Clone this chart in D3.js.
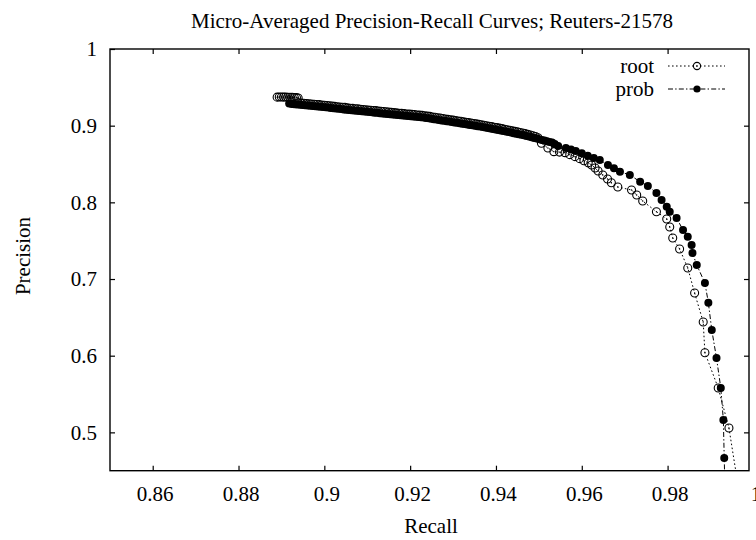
<!DOCTYPE html>
<html>
<head>
<meta charset="utf-8">
<script src="https://cdn.jsdelivr.net/npm/d3@7"></script>
<style>
  html, body { margin: 0; padding: 0; background: #fff; }
  svg { display: block; }
  text { font-family: "Liberation Serif", "Times New Roman", serif; fill: #000; }
</style>
</head>
<body>
<svg id="chart" width="756" height="540"></svg>
<script>
// Micro-averaged precision/recall operating points, Reuters-21578
const seriesNames = ["root", "prob"];

// root: [recall, precision]
const rootPoints = [
  [0.8890, 0.9372], [0.8895, 0.9373], [0.8900, 0.9374], [0.8905, 0.9372], [0.8910, 0.9373],
  [0.8915, 0.9371], [0.8920, 0.9370], [0.8925, 0.9371], [0.8930, 0.9368], [0.8935, 0.9366],
  [0.8939, 0.9360], [0.8940, 0.9297], [0.8946, 0.9294], [0.8952, 0.9292], [0.8958, 0.9288],
  [0.8964, 0.9286], [0.8970, 0.9282], [0.8976, 0.9280], [0.8982, 0.9277], [0.8988, 0.9274],
  [0.8994, 0.9270], [0.9000, 0.9267], [0.9006, 0.9263], [0.9012, 0.9259], [0.9018, 0.9257],
  [0.9024, 0.9252], [0.9030, 0.9247], [0.9036, 0.9244], [0.9042, 0.9240], [0.9048, 0.9238],
  [0.9054, 0.9232], [0.9060, 0.9228], [0.9066, 0.9225], [0.9072, 0.9221], [0.9078, 0.9220],
  [0.9084, 0.9215], [0.9090, 0.9211], [0.9096, 0.9208], [0.9102, 0.9205], [0.9108, 0.9201],
  [0.9114, 0.9198], [0.9120, 0.9196], [0.9126, 0.9191], [0.9132, 0.9188], [0.9138, 0.9184],
  [0.9144, 0.9181], [0.9150, 0.9179], [0.9156, 0.9174], [0.9162, 0.9170], [0.9168, 0.9167],
  [0.9174, 0.9163], [0.9180, 0.9161], [0.9186, 0.9157], [0.9192, 0.9153], [0.9198, 0.9150],
  [0.9204, 0.9147], [0.9210, 0.9145], [0.9216, 0.9140], [0.9222, 0.9137], [0.9228, 0.9134],
  [0.9234, 0.9130], [0.9240, 0.9125], [0.9246, 0.9121], [0.9252, 0.9114], [0.9258, 0.9109],
  [0.9264, 0.9104], [0.9270, 0.9100], [0.9276, 0.9093], [0.9282, 0.9088], [0.9288, 0.9082],
  [0.9294, 0.9078], [0.9300, 0.9072], [0.9306, 0.9066], [0.9312, 0.9061], [0.9318, 0.9057],
  [0.9324, 0.9050], [0.9330, 0.9045], [0.9336, 0.9040], [0.9342, 0.9035], [0.9348, 0.9029],
  [0.9354, 0.9023], [0.9360, 0.9017], [0.9366, 0.9012], [0.9372, 0.9005], [0.9378, 0.8999],
  [0.9384, 0.8993], [0.9390, 0.8987], [0.9396, 0.8980], [0.9402, 0.8974], [0.9408, 0.8968],
  [0.9414, 0.8962], [0.9420, 0.8954], [0.9426, 0.8947], [0.9432, 0.8941], [0.9438, 0.8932],
  [0.9444, 0.8925], [0.9450, 0.8919], [0.9456, 0.8911], [0.9462, 0.8904], [0.9468, 0.8896],
  [0.9474, 0.8887], [0.9480, 0.8879], [0.9486, 0.8869], [0.9492, 0.8858], [0.9498, 0.8842],
  [0.9506, 0.8770], [0.9521, 0.8709], [0.9535, 0.8661], [0.9548, 0.8655], [0.9561, 0.8648],
  [0.9572, 0.8622], [0.9584, 0.8596], [0.9595, 0.8570], [0.9605, 0.8543], [0.9615, 0.8515],
  [0.9623, 0.8487], [0.9631, 0.8448], [0.9638, 0.8409], [0.9649, 0.8357], [0.9660, 0.8305],
  [0.9669, 0.8256], [0.9684, 0.8200], [0.9716, 0.8161], [0.9728, 0.8096], [0.9742, 0.8018],
  [0.9774, 0.7878], [0.9798, 0.7783], [0.9805, 0.7679], [0.9812, 0.7535], [0.9828, 0.7392],
  [0.9847, 0.7144], [0.9863, 0.6818], [0.9883, 0.6439], [0.9887, 0.6039], [0.9918, 0.5579],
  [0.9943, 0.5057], [0.9973, 0.4000]
];

// prob: [recall, precision]
const probPoints = [
  [0.8918, 0.9288], [0.8924, 0.9284], [0.8930, 0.9280], [0.8936, 0.9276], [0.8943, 0.9272],
  [0.8949, 0.9268], [0.8955, 0.9265], [0.8961, 0.9262], [0.8967, 0.9259], [0.8973, 0.9256],
  [0.8979, 0.9253], [0.8985, 0.9250], [0.8991, 0.9246], [0.8997, 0.9243], [0.9003, 0.9240],
  [0.9009, 0.9236], [0.9015, 0.9232], [0.9021, 0.9228], [0.9027, 0.9224], [0.9033, 0.9220],
  [0.9039, 0.9216], [0.9045, 0.9212], [0.9051, 0.9208], [0.9057, 0.9204], [0.9063, 0.9200],
  [0.9069, 0.9197], [0.9075, 0.9194], [0.9081, 0.9190], [0.9087, 0.9187], [0.9093, 0.9184],
  [0.9099, 0.9180], [0.9105, 0.9177], [0.9111, 0.9174], [0.9117, 0.9170], [0.9123, 0.9167],
  [0.9129, 0.9163], [0.9135, 0.9160], [0.9141, 0.9156], [0.9147, 0.9153], [0.9153, 0.9149],
  [0.9159, 0.9146], [0.9165, 0.9142], [0.9171, 0.9139], [0.9177, 0.9136], [0.9183, 0.9132],
  [0.9189, 0.9129], [0.9195, 0.9126], [0.9201, 0.9122], [0.9207, 0.9119], [0.9213, 0.9116],
  [0.9219, 0.9112], [0.9225, 0.9109], [0.9231, 0.9106], [0.9237, 0.9101], [0.9243, 0.9096],
  [0.9249, 0.9090], [0.9255, 0.9085], [0.9261, 0.9080], [0.9267, 0.9074], [0.9273, 0.9069],
  [0.9279, 0.9064], [0.9285, 0.9058], [0.9291, 0.9053], [0.9297, 0.9048], [0.9303, 0.9042],
  [0.9309, 0.9037], [0.9315, 0.9032], [0.9321, 0.9026], [0.9327, 0.9021], [0.9333, 0.9016],
  [0.9339, 0.9010], [0.9345, 0.9005], [0.9351, 0.9000], [0.9357, 0.8994], [0.9363, 0.8988],
  [0.9369, 0.8982], [0.9375, 0.8976], [0.9381, 0.8969], [0.9387, 0.8963], [0.9393, 0.8957],
  [0.9399, 0.8951], [0.9405, 0.8945], [0.9411, 0.8938], [0.9417, 0.8931], [0.9423, 0.8924],
  [0.9429, 0.8917], [0.9435, 0.8910], [0.9441, 0.8902], [0.9447, 0.8895], [0.9453, 0.8888],
  [0.9459, 0.8881], [0.9465, 0.8874], [0.9471, 0.8866], [0.9477, 0.8858], [0.9483, 0.8849],
  [0.9489, 0.8840], [0.9495, 0.8832], [0.9501, 0.8823], [0.9507, 0.8814], [0.9513, 0.8806],
  [0.9519, 0.8797], [0.9525, 0.8788], [0.9531, 0.8780], [0.9537, 0.8760], [0.9545, 0.8735],
  [0.9563, 0.8709], [0.9575, 0.8690], [0.9586, 0.8670], [0.9600, 0.8640], [0.9614, 0.8609],
  [0.9628, 0.8580], [0.9642, 0.8553], [0.9661, 0.8487], [0.9675, 0.8445], [0.9689, 0.8400],
  [0.9712, 0.8357], [0.9736, 0.8269], [0.9754, 0.8214], [0.9774, 0.8122], [0.9786, 0.8031],
  [0.9798, 0.7943], [0.9805, 0.7878], [0.9821, 0.7796], [0.9836, 0.7639], [0.9847, 0.7552],
  [0.9856, 0.7444], [0.9858, 0.7340], [0.9868, 0.7183], [0.9887, 0.6948], [0.9895, 0.6691],
  [0.9903, 0.6335], [0.9914, 0.5970], [0.9924, 0.5579], [0.9930, 0.5161], [0.9932, 0.4666],
  [0.9934, 0.4200]
];

const xTickValues = [0.86, 0.88, 0.90, 0.92, 0.94, 0.96, 0.98, 1.00];
const xTickLabels = ["0.86", "0.88", "0.9", "0.92", "0.94", "0.96", "0.98", "1"];
const yTickValues = [0.5, 0.6, 0.7, 0.8, 0.9, 1.0];
const yTickLabels = ["0.5", "0.6", "0.7", "0.8", "0.9", "1"];

const titleText = "Micro-Averaged Precision-Recall Curves; Reuters-21578";
const xLabel = "Recall";
const yLabel = "Precision";

// ---- layout ----
const frame = { left: 110, right: 749, top: 49, bottom: 470.7 };
const fontSize = 21;

const svg = d3.select("#chart");

const x = d3.scaleLinear().domain([0.85, 1.0]).range([109.8, 753.4]);
const y = d3.scaleLinear().domain([0.45, 1.0]).range([frame.bottom, frame.top]);

const fmtX = d => xTickLabels[xTickValues.indexOf(d)];
const fmtY = d => yTickLabels[yTickValues.indexOf(d)];
const insideX = xTickValues.filter(v => x(v) < frame.right - 1);

// bottom axis: inward ticks, labels below
const gBottom = svg.append("g").attr("transform", `translate(0,${frame.bottom})`)
  .call(d3.axisBottom(x).tickValues(xTickValues).tickFormat(fmtX).tickSize(-5).tickPadding(15));
gBottom.selectAll(".tick line").filter(d => x(d) > frame.right - 1).remove();
gBottom.selectAll(".tick text").attr("x", 2);

// top mirror ticks
svg.append("g").attr("transform", `translate(0,${frame.top})`)
  .call(d3.axisTop(x).tickValues(insideX).tickFormat("").tickSize(-5));

// left axis
svg.append("g").attr("transform", `translate(${frame.left},0)`)
  .call(d3.axisLeft(y).tickValues(yTickValues).tickFormat(fmtY).tickSize(-5).tickPadding(13));

// right mirror ticks
svg.append("g").attr("transform", `translate(${frame.right},0)`)
  .call(d3.axisRight(y).tickValues(yTickValues.filter(v => v < 1)).tickFormat("").tickSize(-5));

svg.selectAll(".domain").remove();
svg.selectAll(".tick line").attr("stroke", "#000").attr("stroke-width", 1.2);
svg.selectAll(".tick text")
  .style("font-family", '"Liberation Serif", "Times New Roman", serif')
  .style("font-size", fontSize + "px").attr("fill", "#000");

// frame
svg.append("rect")
  .attr("x", frame.left).attr("y", frame.top)
  .attr("width", frame.right - frame.left).attr("height", frame.bottom - frame.top)
  .attr("fill", "none").attr("stroke", "#000").attr("stroke-width", 1.4);

// titles
svg.append("text").attr("x", 432).attr("y", 28).attr("text-anchor", "middle")
  .style("font-size", fontSize + "px").text(titleText);
svg.append("text").attr("x", 431).attr("y", 533).attr("text-anchor", "middle")
  .style("font-size", fontSize + "px").text(xLabel);
svg.append("text").attr("transform", "translate(30,256) rotate(-90)").attr("text-anchor", "middle")
  .style("font-size", fontSize + "px").text(yLabel);

// clip to plotting frame
svg.append("defs").append("clipPath").attr("id", "plotClip")
  .append("rect").attr("x", frame.left).attr("y", frame.top)
  .attr("width", frame.right - frame.left).attr("height", frame.bottom - frame.top);

const plot = svg.append("g").attr("clip-path", "url(#plotClip)");
const line = d3.line().x(d => x(d[0])).y(d => y(d[1]));

const styles = {
  root: { dash: "1.6,2.4", data: rootPoints, open: true },
  prob: { dash: "5,2.2,1.4,2.2", data: probPoints, open: false }
};

// open markers are hollow (no fill) with a small centre dot
function drawMarker(g, cx, cy, open, r) {
  if (open) {
    g.append("circle").attr("cx", cx).attr("cy", cy).attr("r", r)
      .attr("fill", "none").attr("stroke", "#000").attr("stroke-width", 1.1);
    g.append("circle").attr("cx", cx).attr("cy", cy).attr("r", 0.7).attr("fill", "#000");
  } else {
    g.append("circle").attr("cx", cx).attr("cy", cy).attr("r", r).attr("fill", "#000");
  }
}

// lines first, then markers on top
["root", "prob"].forEach(name => {
  const s = styles[name];
  plot.append("path").datum(s.data).attr("d", line)
    .attr("fill", "none").attr("stroke", "#000").attr("stroke-width", 1)
    .attr("stroke-dasharray", s.dash);
});
["root", "prob"].forEach(name => {
  const s = styles[name];
  const g = plot.append("g");
  s.data.forEach(d => drawMarker(g, x(d[0]), y(d[1]), s.open, 4));
});

// legend
const legend = svg.append("g");
const legendRows = [{ name: seriesNames[0], cy: 66 }, { name: seriesNames[1], cy: 89 }];
legendRows.forEach(row => {
  const s = styles[row.name];
  legend.append("text").attr("x", 654).attr("y", row.cy + 7).attr("text-anchor", "end")
    .style("font-size", fontSize + "px").text(row.name);
  legend.append("line").attr("x1", 668).attr("x2", 725).attr("y1", row.cy).attr("y2", row.cy)
    .attr("stroke", "#000").attr("stroke-width", 1).attr("stroke-dasharray", s.dash);
  drawMarker(legend, 697, row.cy, s.open, 3.6);
});
</script>
</body>
</html>
